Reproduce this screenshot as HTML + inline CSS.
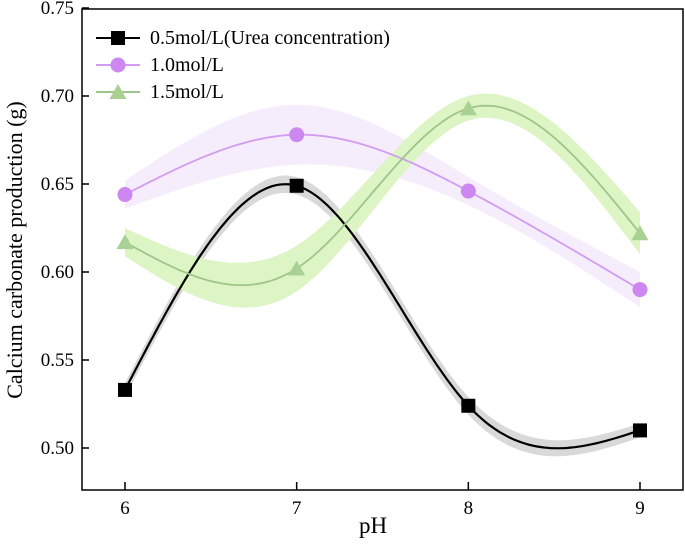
<!DOCTYPE html>
<html><head><meta charset="utf-8"><style>
body{margin:0;background:#fff}
svg{display:block;font-family:"Liberation Serif",serif}
</style></head><body>
<svg id="chart" width="685" height="546" viewBox="0 0 685 546" xmlns="http://www.w3.org/2000/svg"></svg>
<script>
const categories=[6,7,8,9];
const seriesNames=["0.5mol/L(Urea concentration)","1.0mol/L","1.5mol/L"];
const s05=[0.533,0.649,0.524,0.510];
const s10=[0.644,0.678,0.646,0.590];
const s15=[0.617,0.602,0.693,0.622];
const band05=[0.004,0.005,0.005,0.004];
const band10=[0.008,0.017,0.008,0.010];
const band15=[0.008,0.013,0.007,0.012];
const yTicks=[0.50,0.55,0.60,0.65,0.70,0.75];
const yTickLabels=["0.50","0.55","0.60","0.65","0.70","0.75"];
const xTickLabels=["6","7","8","9"];

const L=82,R=683,T=9,B=490;
const xs=v=>125+(v-6)*(640-125)/3;
const ys=v=>448-(v-0.5)*(448-96)/0.2;
const NS="http://www.w3.org/2000/svg";
const svg=document.getElementById('chart');
function mk(tag,attrs,parent){const e=document.createElementNS(NS,tag);for(const k in attrs)e.setAttribute(k,attrs[k]);(parent||svg).appendChild(e);return e;}
function spline(xv,yv){const n=xv.length,h=[],a=[],l=[1],mu=[0],z=[0],c=new Array(n).fill(0),b=[],d=[];
for(let i=0;i<n-1;i++)h.push(xv[i+1]-xv[i]);
for(let i=1;i<n-1;i++)a[i]=3/h[i]*(yv[i+1]-yv[i])-3/h[i-1]*(yv[i]-yv[i-1]);
for(let i=1;i<n-1;i++){l[i]=2*(xv[i+1]-xv[i-1])-h[i-1]*mu[i-1];mu[i]=h[i]/l[i];z[i]=(a[i]-h[i-1]*z[i-1])/l[i];}
for(let j=n-2;j>=0;j--){c[j]=(j>0? z[j]-mu[j]*c[j+1] : 0);b[j]=(yv[j+1]-yv[j])/h[j]-h[j]*(c[j+1]+2*c[j])/3;d[j]=(c[j+1]-c[j])/(3*h[j]);}
return x=>{let i=n-2;for(let k=0;k<n-1;k++)if(x>=xv[k]&&x<=xv[k+1]){i=k;break;}const dx=x-xv[i];return yv[i]+b[i]*dx+c[i]*dx*dx+d[i]*dx*dx*dx;};}
function samples(f){const p=[];for(let i=0;i<=150;i++){const x=6+3*i/150;p.push([x,f(x)]);}return p;}
const defs=[
 {vals:s05,band:band05,line:"#000",fill:"#d9d9d9",marker:"square",mfill:"#000",name:"series-05"},
 {vals:s10,band:band10,line:"#d29cf0",fill:"#f5ecfc",marker:"circle",mfill:"#cc88f0",name:"series-10"},
 {vals:s15,band:band15,line:"#9fc48c",fill:"#ddf5c4",marker:"triangle",mfill:"#a9d193",name:"series-15"}];
defs.forEach(s=>{const f=spline(categories,s.vals),g=spline(categories,s.band);const pts=samples(f);
 const up=pts.map(p=>[xs(p[0]),ys(p[1]+Math.max(0.003,g(p[0])))]),dn=pts.map(p=>[xs(p[0]),ys(p[1]-Math.max(0.003,g(p[0])))]).reverse();
 const e=mk('path',{d:'M'+up.concat(dn).map(p=>p[0].toFixed(1)+','+p[1].toFixed(1)).join('L')+'Z',fill:s.fill});
 
 });
function marker(type,x,y,fill,g){let e;
 if(type==="square")e=mk('rect',{x:x-7,y:y-7,width:14,height:14,fill:fill},g);
 else if(type==="circle")e=mk('circle',{cx:x,cy:y,r:7.5,fill:fill},g);
 else e=mk('polygon',{points:`${x},${y-8} ${x+8.5},${y+7} ${x-8.5},${y+7}`,fill:fill},g);return e;}
defs.forEach(s=>{const f=spline(categories,s.vals);const pts=samples(f);
 const e=mk('path',{d:'M'+pts.map(p=>xs(p[0]).toFixed(1)+','+ys(p[1]).toFixed(1)).join('L'),fill:'none',stroke:s.line,'stroke-width':s.line==="#000"?2.2:1.8});
 
 
 categories.forEach((c,i)=>{const m=marker(s.marker,xs(c),ys(s.vals[i]),s.mfill);
  
  });});
const ax=mk('rect',{x:L,y:T,width:R-L,height:B-T,fill:'none',stroke:'#000','stroke-width':1.5});


yTicks.forEach((v,i)=>{const y=ys(v);mk('line',{x1:L,x2:L+7,y1:y,y2:y,stroke:'#000','stroke-width':1.5});
 const t=mk('text',{x:L-8,y:y+6,'text-anchor':'end','font-size':19});t.textContent=yTickLabels[i];
 
 });
categories.forEach((c,i)=>{const x=xs(c);mk('line',{x1:x,x2:x,y1:B,y2:B-8,stroke:'#000','stroke-width':1.5});
 const t=mk('text',{x:x,y:B+24,'text-anchor':'middle','font-size':19});t.textContent=xTickLabels[i];
 
 });
let t=mk('text',{x:373,y:533,'text-anchor':'middle','font-size':23});t.textContent="pH";


t=mk('text',{x:0,y:0,'text-anchor':'middle','font-size':22,transform:'translate(22,250) rotate(-90)'});t.textContent="Calcium carbonate production (g)";


defs.forEach((s,i)=>{const y=38+i*27;const g=mk('g',{});
 
 
 mk('line',{x1:96,x2:140,y1:y,y2:y,stroke:s.line,'stroke-width':2},g);
 marker(s.marker,118,y,s.mfill,g);
 const tt=mk('text',{x:150,y:y+6,'font-size':20},g);tt.textContent=seriesNames[i];});
</script>
</body></html>
